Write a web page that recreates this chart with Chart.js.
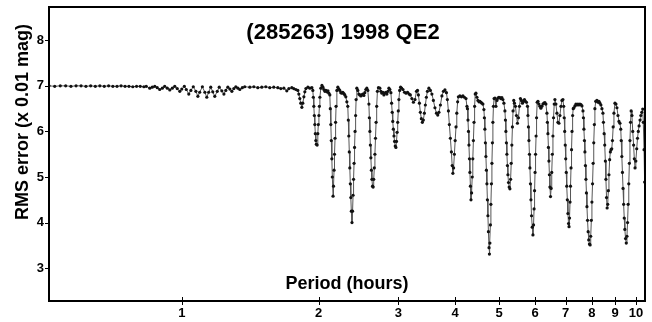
<!DOCTYPE html>
<html>
<head>
<meta charset="utf-8">
<script src="https://cdn.jsdelivr.net/npm/chart.js@4"></script>
<style>
    body { margin: 0; background: #fff; }
    #wrap { width: 652px; height: 322px; }
</style>
</head>
<body>
<div id="wrap"><canvas id="chart-period" width="652" height="322"></canvas></div>
<script>
const chartTitle = '(285263) 1998 QE2';
const xTitle = 'Period (hours)';
const yTitle = 'RMS error (x 0.01 mag)';
const xTicks = [1, 2, 3, 4, 5, 6, 7, 8, 9, 10];
const yTicks = [3, 4, 5, 6, 7, 8];

// period (hours), left to right
const periodHours = [
    // flat part
    0.51, 0.525, 0.54, 0.555, 0.57, 0.585, 0.60, 0.615, 0.63, 0.645, 0.66,
    0.675, 0.69, 0.705, 0.72, 0.735, 0.75, 0.765, 0.78, 0.795, 0.81, 0.825,
    // small ripples
    0.835, 0.85, 0.861, 0.872,
    0.883, 0.894, 0.906, 0.917,
    0.929, 0.941, 0.953, 0.965,
    0.977, 0.990, 1.000, 1.013,
    1.023, 1.036, 1.047, 1.060,
    1.074, 1.085, 1.095, 1.110,
    1.124, 1.135, 1.146, 1.158,
    1.170, 1.182, 1.197, 1.209,
    1.225, 1.238, 1.250, 1.263,
    1.276, 1.289, 1.302, 1.315,
    1.329, 1.342, 1.359, 1.376,
    1.412, 1.441, 1.470, 1.500, 1.531, 1.562, 1.594, 1.627,
    1.652, 1.678, 1.703, 1.721, 1.747, 1.764, 1.783,
    // dips
    1.801, 1.810, 1.819, 1.828, 1.838, 1.847, 1.857, 1.866, 1.876, 1.895, 1.914, 1.934,
    1.943, 1.948, 1.953, 1.958, 1.963, 1.968, 1.973, 1.978, 1.986, 1.993, 1.998, 2.004,
    2.009, 2.014, 2.024, 2.035, 2.045, 2.055, 2.066, 2.076, 2.087, 2.098, 2.108,
    2.118, 2.123, 2.129, 2.134, 2.140, 2.145, 2.153, 2.158, 2.164, 2.169, 2.175, 2.181,
    2.186, 2.195, 2.206, 2.217, 2.228, 2.239, 2.251, 2.262, 2.274, 2.285, 2.297, 2.309,
    2.320, 2.326, 2.332, 2.338, 2.344, 2.350, 2.356, 2.362, 2.370, 2.377, 2.383, 2.389,
    2.395, 2.401, 2.407, 2.414, 2.420, 2.429, 2.441, 2.454, 2.466, 2.479, 2.491, 2.504,
    2.517, 2.529, 2.542, 2.555, 2.568,
    2.582, 2.588, 2.595, 2.601, 2.608, 2.615, 2.622, 2.630, 2.638, 2.646, 2.654, 2.662,
    2.670, 2.678, 2.686, 2.696, 2.710, 2.730, 2.744, 2.758, 2.772, 2.786, 2.800, 2.815,
    2.829, 2.844, 2.858, 2.872,
    2.887, 2.897, 2.906, 2.914, 2.923, 2.932, 2.941, 2.951, 2.961, 2.970, 2.979, 2.988,
    2.997, 3.006, 3.018, 3.032, 3.048, 3.069, 3.093, 3.117, 3.141, 3.166, 3.186, 3.211,
    3.236, 3.262, 3.287, 3.304,
    3.319, 3.336, 3.352, 3.369, 3.386, 3.403, 3.421, 3.438, 3.456, 3.474, 3.500, 3.527,
    3.554, 3.581, 3.609, 3.637, 3.661, 3.683, 3.711, 3.739, 3.768, 3.797, 3.826,
    3.844, 3.864, 3.883, 3.903, 3.923, 3.939, 3.953, 3.967, 3.983, 3.999, 4.016, 4.032,
    4.049, 4.065, 4.096, 4.128, 4.159, 4.191, 4.224, 4.245,
    4.256, 4.267, 4.278, 4.288, 4.299, 4.309, 4.320, 4.333, 4.346, 4.360, 4.373, 4.386,
    4.400, 4.413, 4.427, 4.443, 4.466, 4.488, 4.511, 4.533, 4.556, 4.579, 4.603, 4.626,
    4.637, 4.649, 4.661, 4.673, 4.685, 4.697, 4.709, 4.721, 4.733, 4.748, 4.757, 4.769,
    4.781, 4.793, 4.806, 4.818, 4.830, 4.842, 4.855, 4.872, 4.892, 4.917, 4.942, 4.967,
    4.992, 5.017, 5.043, 5.068, 5.094, 5.120, 5.146,
    5.159, 5.172, 5.185, 5.198, 5.212, 5.225, 5.241, 5.259, 5.278, 5.297, 5.313, 5.330,
    5.346, 5.363, 5.382, 5.400, 5.428, 5.456, 5.484, 5.512, 5.539, 5.567, 5.595, 5.624,
    5.653, 5.682, 5.711, 5.740, 5.770,
    5.783, 5.798, 5.812, 5.827, 5.842, 5.857, 5.872, 5.890, 5.911, 5.932, 5.950, 5.966,
    5.981, 5.996, 6.011, 6.027, 6.042, 6.061, 6.085, 6.115, 6.145, 6.176, 6.208, 6.239,
    6.271, 6.303, 6.335, 6.368,
    6.383, 6.400, 6.416, 6.432, 6.449, 6.465, 6.485, 6.505, 6.525, 6.545, 6.565, 6.585,
    6.608, 6.631, 6.665, 6.699, 6.733, 6.768, 6.802, 6.837, 6.871, 6.906,
    6.933, 6.951, 6.969, 6.987, 7.005, 7.023, 7.041, 7.062, 7.083, 7.105, 7.123, 7.141,
    7.159, 7.177, 7.195, 7.214, 7.232, 7.254, 7.276, 7.302, 7.339, 7.377, 7.414, 7.452,
    7.490, 7.528, 7.566, 7.605, 7.644,
    7.662, 7.681, 7.701, 7.720, 7.740, 7.760, 7.780, 7.800, 7.824, 7.848, 7.872, 7.899,
    7.927, 7.951, 7.976, 8.000, 8.025, 8.049, 8.074, 8.099, 8.121, 8.155, 8.205, 8.247,
    8.289, 8.331, 8.373, 8.416, 8.459,
    8.480, 8.511, 8.537, 8.563, 8.588, 8.615, 8.641, 8.667, 8.694, 8.721, 8.752, 8.783,
    8.814, 8.846, 8.877, 8.909, 8.945, 8.990, 9.036, 9.082, 9.129, 9.175, 9.222, 9.259,
    9.281, 9.310, 9.338, 9.367, 9.395, 9.424, 9.453, 9.487, 9.521, 9.555, 9.584, 9.613,
    9.643, 9.672, 9.701, 9.731, 9.760, 9.800, 9.839,
    9.883, 9.918, 9.954, 9.995, 10.04, 10.08, 10.12, 10.16, 10.21, 10.25, 10.30, 10.35,
    10.38, 10.42, 10.45
];

// RMS error (x 0.01 mag), same order as periodHours
const rmsError = [
    7.00, 6.99, 7.00, 7.00, 6.99, 7.00, 7.00, 6.99, 7.00, 6.99, 7.00,
    6.99, 7.00, 6.99, 6.99, 7.00, 6.99, 6.99, 6.98, 6.99, 6.99, 6.98,
    6.99, 6.95, 6.97, 6.99,
    6.96, 6.92, 6.95, 6.99,
    6.95, 6.91, 6.95, 6.99,
    6.94, 6.88, 6.93, 6.99,
    6.92, 6.82, 6.90, 6.98,
    6.88, 6.77, 6.86, 6.98,
    6.86, 6.75, 6.86, 6.97,
    6.87, 6.77, 6.88, 6.97,
    6.89, 6.82, 6.90, 6.97,
    6.93, 6.88, 6.94, 6.98,
    6.95, 6.92, 6.96, 6.98,
    6.97, 6.98, 6.96, 6.97, 6.98, 6.96, 6.97, 6.96,
    6.94, 6.95, 6.89, 6.94, 6.96, 6.94, 6.92,
    6.90, 6.82, 6.72, 6.62, 6.53, 6.62, 6.76, 6.87, 6.94, 6.97, 6.95, 6.96,
    6.90, 6.75, 6.55, 6.35, 6.15, 5.95, 5.80, 5.72, 5.70, 5.95, 6.15, 6.35,
    6.55, 6.75, 6.95, 7.01, 6.97, 6.92, 6.88, 6.90, 6.87, 6.89, 6.84,
    6.80, 6.50, 6.15, 5.80, 5.40, 5.00, 4.58, 4.80, 5.15, 5.50, 5.85, 6.20,
    6.55, 6.90, 6.97, 6.93, 6.90, 6.85, 6.84, 6.86, 6.83, 6.80, 6.76, 6.65,
    6.55, 6.25, 5.90, 5.55, 5.20, 4.85, 4.55, 4.25, 4.00, 4.25, 4.60, 4.95,
    5.30, 5.65, 6.00, 6.35, 6.70, 6.95, 6.90, 6.82, 6.80, 6.78, 6.80, 6.82,
    6.79, 6.85, 6.92, 6.95, 6.90,
    6.60, 6.30, 6.00, 5.70, 5.42, 5.15, 4.95, 4.80, 4.78, 4.95, 5.20, 5.50,
    5.85, 6.20, 6.55, 6.88, 6.96, 6.95, 6.88, 6.84, 6.86, 6.80, 6.84, 6.86,
    6.82, 6.88, 6.95, 6.92,
    6.85, 6.62, 6.42, 6.22, 6.05, 5.90, 5.78, 5.68, 5.65, 5.78, 5.98, 6.20,
    6.45, 6.70, 6.90, 6.97, 6.95, 6.92, 6.86, 6.84, 6.86, 6.82, 6.80, 6.72,
    6.64, 6.70, 6.88, 6.90,
    6.80, 6.62, 6.42, 6.28, 6.20, 6.25, 6.40, 6.58, 6.75, 6.88, 6.95, 6.90,
    6.82, 6.68, 6.52, 6.40, 6.36, 6.42, 6.58, 6.78, 6.88, 6.91, 6.85,
    6.70, 6.45, 6.15, 5.85, 5.55, 5.25, 5.08, 5.20, 5.50, 5.80, 6.10, 6.40,
    6.65, 6.76, 6.78, 6.76, 6.78, 6.75, 6.72, 6.55,
    6.50, 6.25, 6.00, 5.70, 5.40, 5.10, 4.80, 4.50, 4.65, 5.00, 5.40, 5.80,
    6.20, 6.55, 6.82, 6.84, 6.75, 6.68, 6.65, 6.66, 6.64, 6.62, 6.60, 6.48,
    6.30, 6.05, 5.75, 5.45, 5.15, 4.85, 4.50, 4.15, 3.80, 3.45, 3.31, 3.55,
    3.95, 4.40, 4.85, 5.30, 5.75, 6.20, 6.55, 6.72, 6.73, 6.55, 6.68, 6.73,
    6.75, 6.74, 6.72, 6.74, 6.70, 6.62, 6.45,
    6.25, 6.00, 5.75, 5.50, 5.25, 5.05, 4.88, 4.78, 4.74, 4.95, 5.30, 5.70,
    6.10, 6.45, 6.68, 6.62, 6.55, 6.35, 6.18, 6.30, 6.55, 6.72, 6.68, 6.62,
    6.66, 6.70, 6.66, 6.64, 6.55,
    6.35, 6.10, 5.80, 5.50, 5.20, 4.85, 4.50, 4.15, 3.90, 3.73, 3.95, 4.30,
    4.70, 5.10, 5.50, 5.90, 6.30, 6.64, 6.66, 6.60, 6.55, 6.51, 6.55, 6.60,
    6.62, 6.63, 6.60, 6.40,
    6.20, 5.95, 5.65, 5.35, 5.05, 4.78, 4.57, 4.75, 5.10, 5.50, 5.90, 6.30,
    6.60, 6.70, 6.60, 6.40, 6.20, 6.18, 6.35, 6.55, 6.68, 6.70,
    6.55, 6.30, 6.00, 5.70, 5.40, 5.10, 4.80, 4.50, 4.20, 3.98, 3.91, 4.10,
    4.45, 4.80, 5.20, 5.60, 6.00, 6.35, 6.50, 6.52, 6.56, 6.60, 6.58, 6.60,
    6.58, 6.60, 6.59, 6.56, 6.45,
    6.30, 6.05, 5.80, 5.55, 5.25, 4.95, 4.65, 4.35, 4.05, 3.80, 3.62, 3.53,
    3.51, 3.70, 4.05, 4.45, 4.85, 5.30, 5.75, 6.15, 6.50, 6.66, 6.68, 6.64,
    6.66, 6.62, 6.58, 6.50, 6.40,
    6.20, 5.95, 5.70, 5.35, 4.95, 4.55, 4.32, 4.40, 4.70, 5.05, 5.38, 5.55,
    5.60, 5.62, 5.80, 6.10, 6.40, 6.62, 6.60, 6.52, 6.35, 6.22, 6.18, 6.05,
    5.80, 5.45, 5.10, 4.75, 4.40, 4.10, 3.85, 3.65, 3.55, 3.70, 4.00, 4.40,
    4.85, 5.30, 5.80, 6.20, 6.45, 6.35, 6.00,
    5.70, 5.40, 5.20, 5.35, 5.62, 5.85, 6.00, 6.12, 6.25, 6.35, 6.42, 6.49,
    6.20, 5.60, 4.89
];

const FONT = '"Liberation Sans", Arial, sans-serif';

// frame, tick marks and the texts that sit inside / beside the plot
const framePlugin = {
    id: 'frame',
    afterDraw(chart) {
        const { ctx, chartArea: a, scales } = chart;
        ctx.save();
        ctx.strokeStyle = '#000';
        ctx.lineWidth = 1;
        ctx.beginPath();
        xTicks.forEach(v => {
            const x = Math.round(scales.x.getPixelForValue(v)) + 0.5;
            ctx.moveTo(x, a.bottom - 4);
            ctx.lineTo(x, a.bottom + 4);
        });
        yTicks.forEach(v => {
            const y = Math.round(scales.y.getPixelForValue(v)) + 0.5;
            ctx.moveTo(a.left - 4, y);
            ctx.lineTo(a.left, y);
        });
        ctx.stroke();

        ctx.lineWidth = 2;
        ctx.strokeRect(a.left, a.top, a.right - a.left, a.bottom - a.top);

        ctx.fillStyle = '#000';
        ctx.textAlign = 'center';
        ctx.textBaseline = 'middle';
        ctx.font = 'bold 22px ' + FONT;
        ctx.fillText(chartTitle, (a.left + a.right) / 2 - 4, a.top + 26);
        ctx.font = 'bold 18px ' + FONT;
        ctx.fillText(xTitle, (a.left + a.right) / 2, a.bottom - 17);

        ctx.translate(a.left - 26, a.top + 115);
        ctx.rotate(-Math.PI / 2);
        ctx.font = 'bold 18px ' + FONT;
        ctx.fillText(yTitle, 0, 0);
        ctx.restore();
    }
};

let periodChart = null;

function initChart() {
    const ctx = document.getElementById('chart-period').getContext('2d');
    const points = periodHours.map((p, i) => ({ x: p, y: rmsError[i] }));

    periodChart = new Chart(ctx, {
        type: 'scatter',
        data: {
            datasets: [{
                label: 'RMS',
                data: points,
                showLine: true,
                borderColor: '#555',
                borderWidth: 1,
                pointRadius: 1.6,
                pointBackgroundColor: '#111',
                pointBorderWidth: 0,
                tension: 0
            }]
        },
        options: {
            responsive: false,
            devicePixelRatio: 1,
            animation: false,
            layout: { padding: { top: 7, right: 7, left: 0, bottom: 0 } },
            plugins: {
                legend: { display: false },
                tooltip: { enabled: false }
            },
            scales: {
                x: {
                    type: 'logarithmic',
                    min: 0.51,
                    max: 10.47,
                    grid: { display: false, drawTicks: false },
                    border: { display: false },
                    afterBuildTicks: s => { s.ticks = xTicks.map(v => ({ value: v })); },
                    afterFit: s => {
                        s.height = 21;
                        s.paddingLeft = 0;
                        s.paddingRight = 0;
                    },
                    ticks: {
                        autoSkip: false,
                        maxRotation: 0,
                        minRotation: 0,
                        padding: 5,
                        color: '#000',
                        font: { family: FONT, weight: 'bold', size: 13 },
                        callback: v => String(v)
                    }
                },
                y: {
                    min: 2.28,
                    max: 8.73,
                    grid: { display: false, drawTicks: false },
                    border: { display: false },
                    afterBuildTicks: s => { s.ticks = yTicks.map(v => ({ value: v })); },
                    afterFit: s => {
                        s.width = 49;
                        s.paddingTop = 0;
                        s.paddingBottom = 0;
                    },
                    ticks: {
                        padding: 5,
                        color: '#000',
                        font: { family: FONT, weight: 'bold', size: 13 },
                        callback: v => String(v)
                    }
                }
            }
        },
        plugins: [framePlugin]
    });
}

document.addEventListener('DOMContentLoaded', initChart);
</script>
</body>
</html>
